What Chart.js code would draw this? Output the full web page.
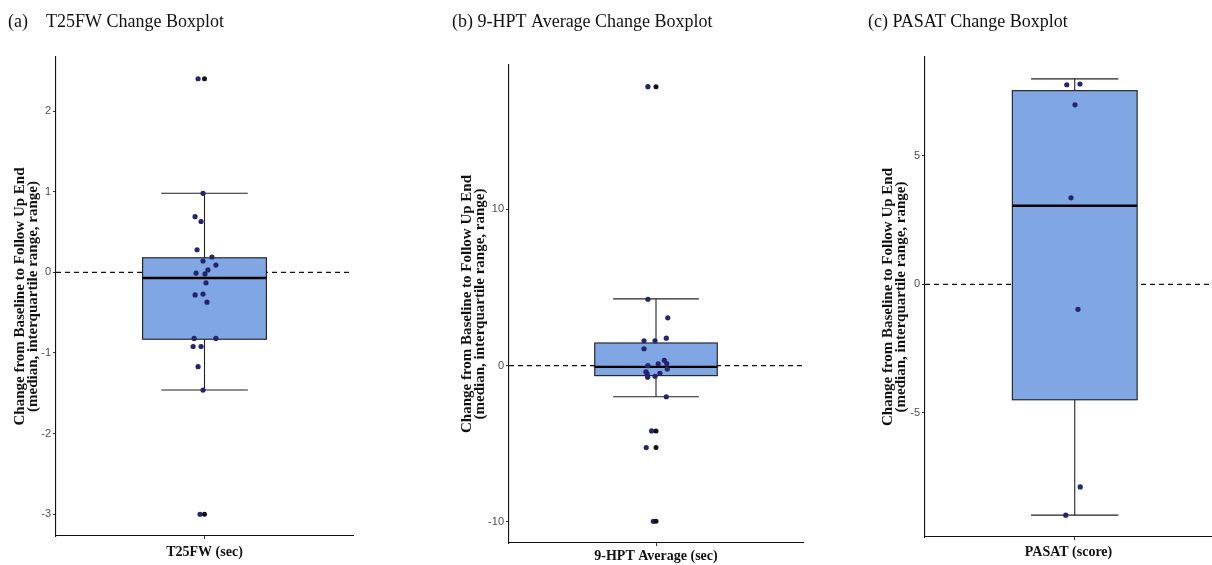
<!DOCTYPE html>
<html>
<head>
<meta charset="utf-8">
<script src="https://cdn.jsdelivr.net/npm/chart.js@4.4.0/dist/chart.umd.min.js"></script>
<style>
  html, body { margin: 0; padding: 0; background: #fff; }
  body { width: 1212px; height: 565px; position: relative; overflow: hidden; }
  canvas { position: absolute; top: 0; }
</style>
</head>
<body>
<canvas id="chartA" width="349" height="565" style="left:8px"></canvas>
<canvas id="chartB" width="355" height="565" style="left:452px"></canvas>
<canvas id="chartC" width="348" height="565" style="left:868px"></canvas>
<script>
// ---- data ----
const panelTitles = ['(a)    T25FW Change Boxplot', '(b) 9-HPT Average Change Boxplot', '(c) PASAT Change Boxplot'];
const xTitles = ['T25FW (sec)', '9-HPT Average (sec)', 'PASAT (score)'];
const yTitle = ['Change from Baseline to Follow Up End', '(median, interquartile range, range)'];

// T25FW: individual changes (jittered dots) + boxplot outliers
const t25fwValues = [2.4, 0.98, 0.69, 0.63, 0.28, 0.19, 0.14, 0.09, 0.03, -0.01, -0.02, -0.13,
  -0.28, -0.27, -0.37, -0.82, -0.82, -0.92, -0.92, -1.17, -1.46, -3.0];
const t25fwJitter = [-0.026, -0.006, -0.038, -0.014, -0.030, 0.030, -0.006, 0.046, 0.014, -0.034, 0.002, 0.006,
  -0.038, -0.006, 0.010, -0.042, 0.046, -0.046, -0.014, -0.026, -0.006, -0.018];
const t25fwOutliers = [2.4, -3.0];
const t25fwBox = [-1.46, -0.83, -0.07, 0.18, 0.98]; // lo, q1, median, q3, hi
const t25fwTicks = [-3, -2, -1, 0, 1, 2];
const t25fwRange = [-3.27, 2.67];

// 9-HPT average
const hptValues = [17.85, 4.25, 3.06, 1.76, 1.59, 1.59, 1.08, 0.34, 0.13, 0.11, 0.0, -0.21,
  -0.4, -0.49, -0.53, -0.68, -0.74, -1.99, -4.18, -5.24, -9.96];
const hptJitter = [-0.033, -0.033, 0.048, 0.042, -0.049, -0.004, -0.049, 0.034, 0.044, 0.009, -0.033, 0.046,
  -0.041, 0.016, -0.036, -0.004, -0.034, 0.042, -0.018, -0.040, -0.011];
const hptOutliers = [17.85, -4.18, -5.24, -9.96];
const hptBox = [-1.99, -0.64, -0.08, 1.45, 4.27];
const hptTicks = [-10, 0, 10];
const hptRange = [-11.35, 19.24];

// PASAT
const pasatValues = [7.77, 7.8, 6.99, 3.37, -0.97, -7.88, -8.98];
const pasatJitter = [-0.032, 0.021, 0.001, -0.015, 0.013, 0.022, -0.036];
const pasatOutliers = [];
const pasatBox = [-8.98, -4.49, 3.06, 7.54, 8.0];
const pasatTicks = [-5, 0, 5];
const pasatRange = [-9.83, 8.85];

// ---- drawing ----
const serif = "'Liberation Serif', 'Times New Roman', serif";
const sans = "'Liberation Sans', Arial, sans-serif";

// draws the zero reference line, whiskers, box and median through the scales
const boxPlugin = {
  id: 'boxplot',
  beforeDatasetsDraw(chart, args, opts) {
    const { ctx, chartArea: a, scales: { x, y } } = chart;
    const [lo, q1, med, q3, hi] = opts.stats;
    const cx = x.getPixelForValue(0);
    const bl = x.getPixelForValue(-opts.boxHalf), br = x.getPixelForValue(opts.boxHalf);
    const cl = x.getPixelForValue(-opts.capHalf), cr = x.getPixelForValue(opts.capHalf);
    const seg = (x1, y1, x2, y2) => { ctx.beginPath(); ctx.moveTo(x1, y1); ctx.lineTo(x2, y2); ctx.stroke(); };

    ctx.save();
    ctx.beginPath();
    ctx.rect(a.left, a.top, a.right - a.left, a.bottom - a.top);
    ctx.clip();

    ctx.strokeStyle = '#111';
    ctx.lineWidth = 1.2;
    ctx.setLineDash([5, 4]);
    const y0 = y.getPixelForValue(0);
    seg(a.left, y0, a.right, y0);
    ctx.setLineDash([]);

    ctx.lineWidth = 1.1;
    ctx.strokeStyle = '#222';
    seg(cx, y.getPixelForValue(lo), cx, y.getPixelForValue(hi));
    seg(cl, y.getPixelForValue(lo), cr, y.getPixelForValue(lo));
    seg(cl, y.getPixelForValue(hi), cr, y.getPixelForValue(hi));

    const yt = y.getPixelForValue(q3), yb = y.getPixelForValue(q1);
    ctx.fillStyle = '#80a7e3';
    ctx.fillRect(bl, yt, br - bl, yb - yt);
    ctx.strokeStyle = '#1a1a1a';
    ctx.lineWidth = 1.1;
    ctx.strokeRect(bl, yt, br - bl, yb - yt);

    ctx.lineWidth = 2.4;
    ctx.strokeStyle = '#000';
    const ym = y.getPixelForValue(med);
    seg(bl, ym, br, ym);
    ctx.restore();
  }
};

function makePanel(id, p) {
  const dots = p.values.map((v, i) => ({ x: p.jitter[i], y: v }));
  const outs = p.outliers.map(v => ({ x: 0, y: v }));
  return new Chart(document.getElementById(id), {
    type: 'scatter',
    data: {
      datasets: [
        { data: outs, pointRadius: 2.5, pointBackgroundColor: '#111', pointBorderWidth: 0 },
        { data: dots, pointRadius: 2.6, pointBackgroundColor: '#25256e', pointBorderWidth: 0 }
      ]
    },
    options: {
      responsive: false,
      animation: false,
      layout: { padding: 0 },
      plugins: {
        legend: { display: false },
        tooltip: { enabled: false },
        title: {
          display: true, text: p.title, align: 'start', color: '#111',
          font: { family: serif, size: 18, weight: 'normal', lineHeight: 1.2 },
          padding: { top: 11.2, bottom: p.plotTop - 32.8 }
        },
        boxplot: { stats: p.box, boxHalf: 0.25, capHalf: 0.175 }
      },
      scales: {
        x: {
          type: 'linear', min: p.xRange[0], max: p.xRange[1],
          afterBuildTicks: s => { s.ticks = [{ value: 0 }]; },
          afterFit: s => { s.height = p.xAxisH; },
          ticks: { callback: () => '' },
          grid: { drawOnChartArea: false, tickLength: 3, color: '#333' },
          border: { display: true, color: '#111', width: 1.1 },
          title: {
            display: true, text: p.xTitle, color: '#111',
            font: { family: serif, size: 14, weight: 'bold', lineHeight: 1.2 },
            padding: { top: 0, bottom: p.xTitlePad }
          }
        },
        y: {
          min: p.range[0], max: p.range[1],
          afterBuildTicks: s => { s.ticks = p.ticks.map(v => ({ value: v })); },
          afterFit: s => { s.width = p.yAxisW; },
          ticks: { color: '#4d4d4d', font: { family: sans, size: 11 }, padding: 2 },
          grid: { drawOnChartArea: false, tickLength: 3, color: '#333' },
          border: { display: true, color: '#111', width: 1.1 },
          title: {
            display: true, text: yTitle, color: '#111',
            font: { family: serif, size: 15, weight: 'bold', lineHeight: 0.88 },
            padding: { top: p.yTitlePad, bottom: 0 }
          }
        }
      }
    },
    plugins: [boxPlugin]
  });
}

makePanel('chartA', {
  title: panelTitles[0], xTitle: xTitles[0],
  values: t25fwValues, jitter: t25fwJitter, outliers: t25fwOutliers, box: t25fwBox,
  ticks: t25fwTicks, range: t25fwRange, xRange: [-0.6, 0.6],
  plotTop: 57, xAxisH: 29, xTitlePad: 4.6, yAxisW: 48, yTitlePad: 5.4
});
makePanel('chartB', {
  title: panelTitles[1], xTitle: xTitles[1],
  values: hptValues, jitter: hptJitter, outliers: hptOutliers, box: hptBox,
  ticks: hptTicks, range: hptRange, xRange: [-0.6, 0.6],
  plotTop: 65, xAxisH: 22, xTitlePad: 0, yAxisW: 57, yTitlePad: 8.4
});
makePanel('chartC', {
  title: panelTitles[2], xTitle: xTitles[2],
  values: pasatValues, jitter: pasatJitter, outliers: pasatOutliers, box: pasatBox,
  ticks: pasatTicks, range: pasatRange, xRange: [-0.6, 0.55],
  plotTop: 57, xAxisH: 28, xTitlePad: 4.6, yAxisW: 57, yTitlePad: 13.4
});
</script>
</body>
</html>
